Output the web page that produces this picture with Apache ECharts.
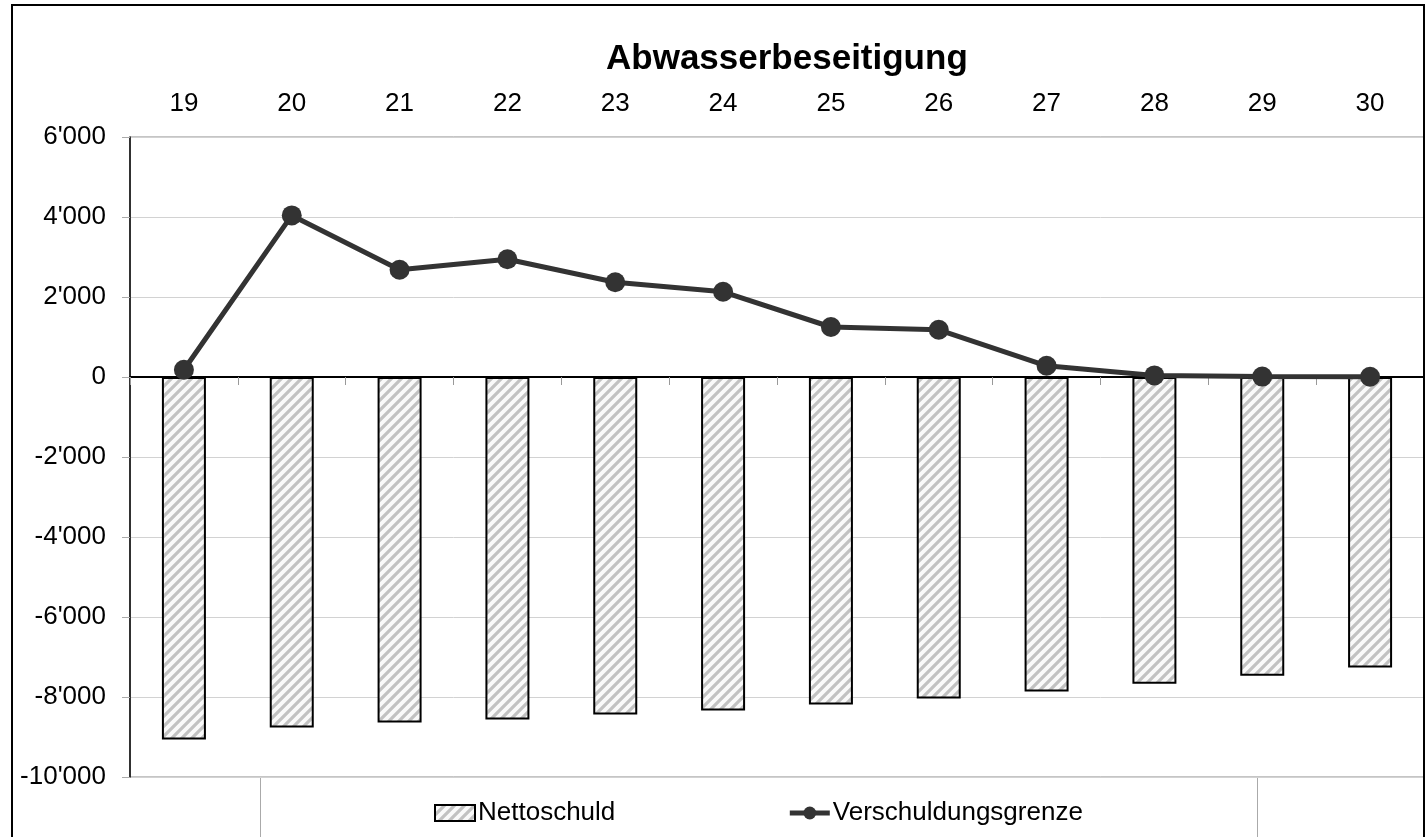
<!DOCTYPE html>
<html>
<head>
<meta charset="utf-8">
<title>Abwasserbeseitigung</title>
<script src="https://cdn.jsdelivr.net/npm/echarts@6.0.0/dist/echarts.min.js"></script>
<style>
  html, body { margin: 0; padding: 0; background: #fff; }
  #chart { width: 1427px; height: 837px; }
</style>
</head>
<body>
<div id="chart"></div>
<script>
// data
const years = ['19', '20', '21', '22', '23', '24', '25', '26', '27', '28', '29', '30'];
const nettoschuld = [-9060, -8760, -8640, -8560, -8440, -8340, -8190, -8040, -7860, -7670, -7470, -7260];
const verschuldungsgrenze = [180, 4040, 2680, 2945, 2370, 2130, 1250, 1180, 280, 40, 10, 5];
const yTicks = { min: -10000, max: 6000, step: 2000 };

const FONT = '"Liberation Sans", Arial, sans-serif';

// grey diagonal hatch like the Excel fill pattern
function hatchPattern() {
  const n = 10;
  const c = document.createElement('canvas');
  c.width = n; c.height = n;
  const g = c.getContext('2d');
  g.fillStyle = '#fafafa';
  g.fillRect(0, 0, n, n);
  g.strokeStyle = '#c2c2c2';
  g.lineWidth = 3.2;
  g.beginPath();
  g.moveTo(0, n); g.lineTo(n, 0);
  g.moveTo(-n / 2, n / 2); g.lineTo(n / 2, -n / 2);
  g.moveTo(n / 2, n * 1.5); g.lineTo(n * 1.5, n / 2);
  g.stroke();
  return c;
}
const hatch = { image: hatchPattern(), repeat: 'repeat' };

function fmt(v) {
  const s = String(Math.abs(v)).replace(/\B(?=(\d{3})+(?!\d))/g, "'");
  return (v < 0 ? '-' : '') + s;
}

const chart = echarts.init(document.getElementById('chart'));

chart.setOption({
  animation: false,
  backgroundColor: '#fff',
  textStyle: { fontFamily: FONT },
  title: {
    text: 'Abwasserbeseitigung',
    left: 601,
    top: 37,
    textStyle: { fontFamily: FONT, fontSize: 35, fontWeight: 'bold', color: '#000' }
  },
  legend: {
    left: 429,
    top: 795,
    itemGap: 172,
    itemWidth: 40,
    itemHeight: 16,
    textStyle: { fontFamily: FONT, fontSize: 26, color: '#000', padding: [0, 0, 0, -2] },
    data: [
      { name: 'Nettoschuld', icon: 'rect', itemStyle: { color: hatch, borderColor: '#000', borderWidth: 2 } },
      { name: 'Verschuldungsgrenze', lineStyle: { width: 5, color: '#333' }, itemStyle: { color: '#333' } }
    ]
  },
  grid: {
    left: 130, right: 3, top: 137, bottom: 60,
    show: true, borderColor: '#8a8a8a', borderWidth: 1
  },
  xAxis: [
    {
      // labels on top
      type: 'category',
      data: years,
      position: 'top',
      axisLine: { show: false, onZero: false },
      axisTick: { show: false },
      axisLabel: { fontFamily: FONT, fontSize: 26, color: '#000', margin: 20 }
    },
    {
      // axis line crossing at zero
      type: 'category',
      data: years,
      position: 'bottom',
      axisLine: { show: true, onZero: true, lineStyle: { color: '#000', width: 2 } },
      axisTick: { show: true, length: 8, lineStyle: { color: '#999' } },
      axisLabel: { show: false }
    }
  ],
  yAxis: {
    type: 'value',
    min: yTicks.min,
    max: yTicks.max,
    interval: yTicks.step,
    axisLine: { show: true, lineStyle: { color: '#000', width: 1.5 } },
    axisTick: { show: true, length: 8, lineStyle: { color: '#aaa' } },
    axisLabel: { fontFamily: FONT, fontSize: 26, color: '#000', margin: 24, formatter: fmt },
    splitLine: { show: true, lineStyle: { color: '#d2d2d2', width: 1 } }
  },
  series: [
    {
      name: 'Nettoschuld',
      type: 'bar',
      xAxisIndex: 0,
      data: nettoschuld,
      barWidth: 44,
      itemStyle: { color: hatch, borderColor: '#000', borderWidth: 2 },
      z: 2
    },
    {
      name: 'Verschuldungsgrenze',
      type: 'line',
      xAxisIndex: 0,
      data: verschuldungsgrenze,
      symbol: 'circle',
      symbolSize: 20,
      lineStyle: { color: '#333', width: 5 },
      itemStyle: { color: '#333' },
      z: 5
    }
  ],
  graphic: [
    {
      type: 'rect',
      shape: { x: 12, y: 5, width: 1412, height: 860 },
      style: { fill: 'none', stroke: '#000', lineWidth: 2 },
      silent: true,
      z: 100
    },
    {
      type: 'line',
      shape: { x1: 260.5, y1: 777, x2: 260.5, y2: 837 },
      style: { stroke: '#aaa', lineWidth: 1 },
      silent: true
    },
    {
      type: 'line',
      shape: { x1: 1257.5, y1: 777, x2: 1257.5, y2: 837 },
      style: { stroke: '#aaa', lineWidth: 1 },
      silent: true
    }
  ]
});

window.addEventListener('resize', () => chart.resize());
</script>
</body>
</html>
